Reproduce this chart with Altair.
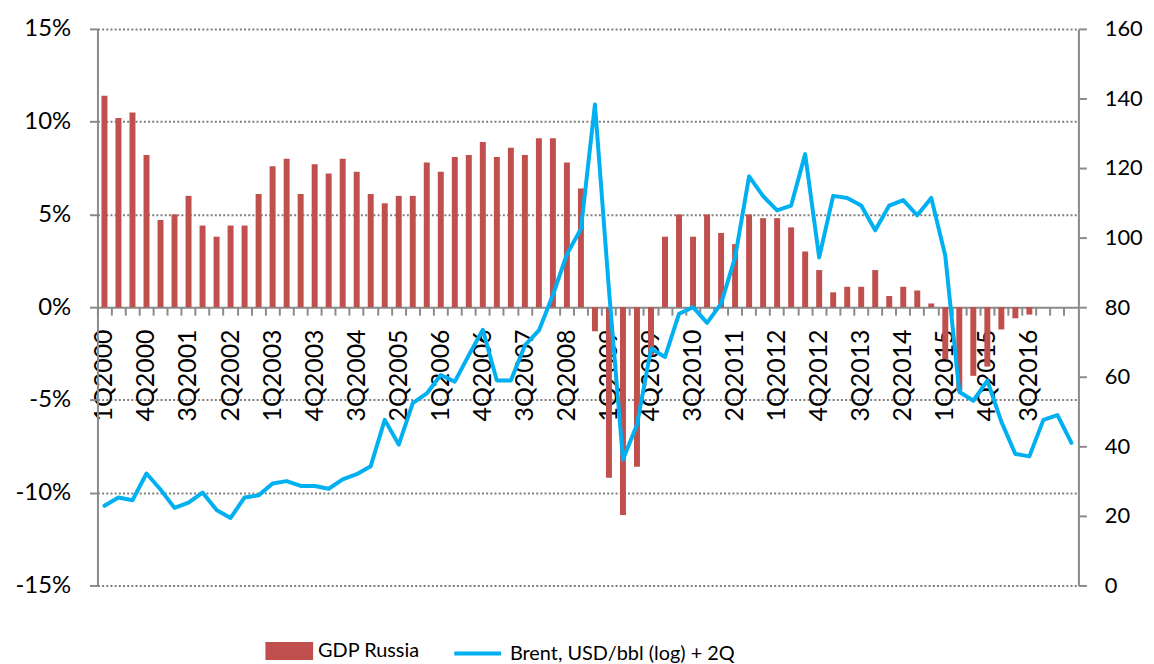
import altair as alt
import pandas as pd

# Quarter categories 1Q2000 .. 2Q2017
years = list(range(2000, 2018))
quarters = [f"{q}Q{y}" for y in years for q in (1, 2, 3, 4)][:70]
label_quarters = quarters[:67:3]

# Russia GDP, % y/y
gdp = [11.4, 10.2, 10.5, 8.2, 4.7, 5.0, 6.0, 4.4, 3.8, 4.4,
       4.4, 6.1, 7.6, 8.0, 6.1, 7.7, 7.2, 8.0, 7.3, 6.1,
       5.6, 6.0, 6.0, 7.8, 7.3, 8.1, 8.2, 8.9, 8.1, 8.6,
       8.2, 9.1, 9.1, 7.8, 6.4, -1.3, -9.2, -11.2, -8.6, -2.6,
       3.8, 5.0, 3.8, 5.0, 4.0, 3.4, 5.0, 4.8, 4.8, 4.3,
       3.0, 2.0, 0.8, 1.1, 1.1, 2.0, 0.6, 1.1, 0.9, 0.2,
       -2.8, -4.5, -3.7, -3.2, -1.2, -0.6, -0.4, None, None, None]

# Brent, USD/bbl, shifted +2Q
brent = [22.9, 25.3, 24.5, 32.2, 27.6, 22.3, 23.8, 26.7, 21.7, 19.4,
         25.3, 25.9, 29.3, 30.0, 28.6, 28.6, 27.8, 30.5, 32.0, 34.3,
         47.6, 40.5, 52.4, 55.2, 60.5, 58.6, 66.2, 73.5, 58.9, 58.9,
         69.0, 73.3, 83.5, 95.2, 102.5, 138.3, 85.0, 36.2, 46.2, 68.1,
         65.7, 78.1, 80.0, 75.5, 81.0, 94.3, 117.6, 111.9, 107.8, 109.2,
         124.0, 94.3, 112.0, 111.4, 109.2, 102.1, 109.2, 110.8, 106.4, 111.4,
         94.8, 55.7, 53.1, 58.9, 47.1, 37.8, 37.1, 47.6, 49.0, 41.0]

gdp_name = "GDP Russia"
brent_name = "Brent, USD/bbl (log) + 2Q"

df = pd.DataFrame({
    "quarter": quarters,
    "gdp": gdp,
    "brent": brent,
    "gdp_s": gdp_name,
    "brent_s": brent_name,
})

FONT = "Lato"
AXIS_GRAY = "#8a8a8a"

xscale = alt.Scale(domain=quarters, paddingInner=0, paddingOuter=0)

label_axis = alt.Axis(
    orient="bottom", offset=-280, values=label_quarters, labelAngle=270,
    ticks=False, tickSize=0, labelPadding=22, labelFontSize=25, labelFont=FONT,
    labelColor="black", labelOverlap=False, domain=True, domainColor=AXIS_GRAY,
    domainWidth=2, grid=False, title=None,
)
tick_axis = alt.Axis(
    orient="bottom", offset=-280, bandPosition=0, labels=False, domain=False,
    ticks=True, tickSize=8, tickColor=AXIS_GRAY, tickWidth=2, grid=False, title=None,
)
left_axis = alt.Axis(
    orient="left", values=[-15, -10, -5, 0, 5, 10, 15], labelExpr="datum.value + '%'",
    labelFontSize=24, labelFont=FONT, labelColor="black", labelPadding=19,
    tickSize=8, tickColor=AXIS_GRAY, tickWidth=2, domainColor=AXIS_GRAY, domainWidth=2,
    grid=True, gridColor={"condition": {"test": "datum.value == 0", "value": "transparent"},
                          "value": "#7f7f7f"},
    gridDash=[2, 2.2], gridWidth=2, title=None,
)
right_axis = alt.Axis(
    orient="right", values=list(range(0, 161, 20)), labelFontSize=22, labelFont=FONT,
    labelColor="black", labelPadding=18, tickSize=8, tickColor=AXIS_GRAY, tickWidth=2,
    domainColor=AXIS_GRAY, domainWidth=2, grid=False, title=None,
)

bars = alt.Chart(df).mark_bar(size=6).encode(
    x=alt.X("quarter:N", sort=quarters, scale=xscale, axis=label_axis),
    y=alt.Y("gdp:Q", scale=alt.Scale(domain=[-15, 15], nice=False, zero=False), axis=left_axis),
    fill=alt.Fill("gdp_s:N", scale=alt.Scale(domain=[gdp_name], range=["#C0504D"]),
                  legend=alt.Legend(title=None, orient="none", legendX=169, legendY=602,
                                    symbolType="M-1,-0.375H1V0.375H-1Z", symbolSize=2304,
                                    symbolStrokeWidth=0, symbolOpacity=1, labelFontSize=20,
                                    labelFont=FONT, labelColor="black", labelOffset=5,
                                    labelLimit=0, padding=0)),
)

line = alt.Chart(df).mark_line(strokeWidth=4, strokeJoin="round", strokeCap="round").encode(
    x=alt.X("quarter:N", sort=quarters, scale=xscale, axis=tick_axis),
    y=alt.Y("brent:Q", scale=alt.Scale(domain=[0, 160], nice=False), axis=right_axis),
    stroke=alt.Stroke("brent_s:N", scale=alt.Scale(domain=[brent_name], range=["#00B0F0"]),
                      legend=alt.Legend(title=None, orient="none", legendX=357, legendY=603,
                                        symbolType="stroke", symbolSize=2209,
                                        symbolStrokeWidth=4, labelFontSize=20,
                                        labelFont=FONT, labelColor="black", labelOffset=7,
                                        labelLimit=0, padding=0)),
)

chart = (
    alt.layer(bars, line)
    .resolve_scale(y="independent", fill="independent", stroke="independent")
    .resolve_axis(x="independent", y="independent")
    .properties(
        width=987, height=560,
        padding={"left": 90, "top": 19, "right": 68, "bottom": 77},
        autosize=alt.AutoSizeParams(type="none"),
        background="white",
    )
    .configure_view(stroke=None)
)

chart.save("out.html", embed_options={"renderer": "svg", "actions": False})
